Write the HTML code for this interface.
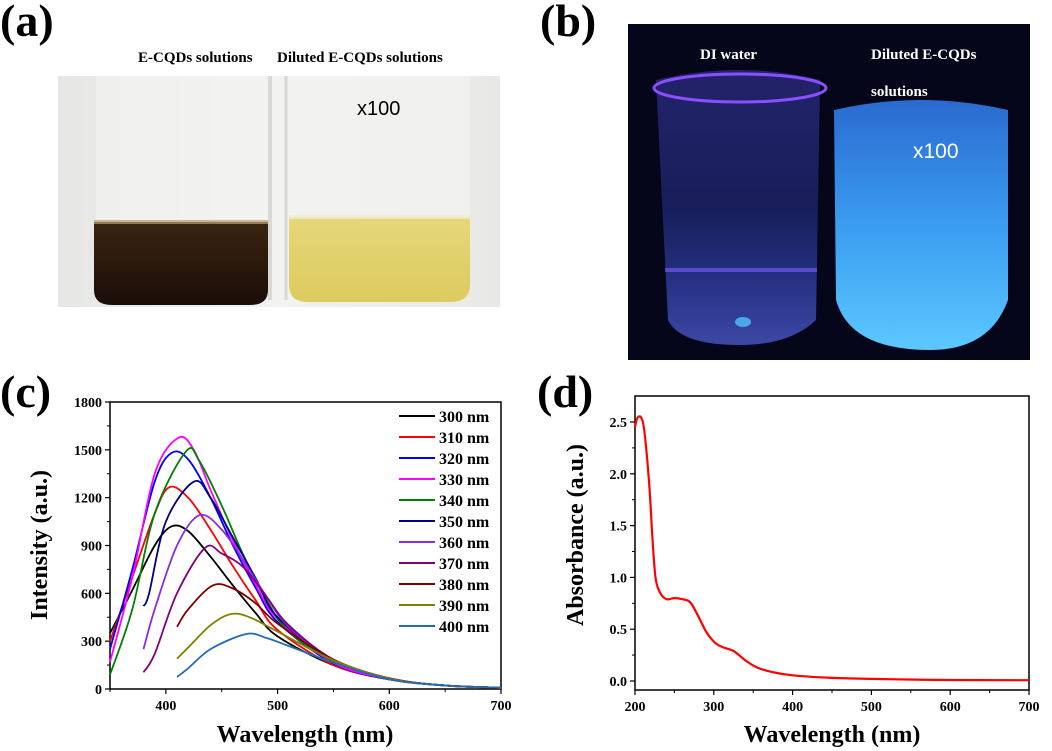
<!DOCTYPE html>
<html><head><meta charset="utf-8"><style>
body{margin:0;background:#fff;width:1052px;height:751px;overflow:hidden;position:relative;font-family:"Liberation Serif",serif}
.lbl{position:absolute;font-weight:bold;font-size:46px;line-height:1}
svg{position:absolute;left:0;top:0}
</style></head><body>
<div class="lbl" style="left:0;top:-2px">(a)</div>
<div class="lbl" style="left:540px;top:-2px">(b)</div>
<div class="lbl" style="left:0;top:369px">(c)</div>
<div class="lbl" style="left:537px;top:369px">(d)</div>
<svg width="1052" height="751" id="svg" font-family="Liberation Serif, serif">
<defs>
<linearGradient id="bgA" x1="0" y1="0" x2="1" y2="0"><stop offset="0" stop-color="#e6e6e4"/><stop offset="0.5" stop-color="#f2f2f0"/><stop offset="1" stop-color="#e8e8e6"/></linearGradient>
<linearGradient id="brown" x1="0" y1="0" x2="0" y2="1"><stop offset="0" stop-color="#3a2410"/><stop offset="1" stop-color="#1a0e08"/></linearGradient>
<linearGradient id="yel" x1="0" y1="0" x2="0" y2="1"><stop offset="0" stop-color="#e6d77a"/><stop offset="1" stop-color="#dccb5e"/></linearGradient>
<linearGradient id="glow" x1="0" y1="0" x2="0" y2="1"><stop offset="0" stop-color="#2a6ad0"/><stop offset="0.5" stop-color="#3a9cf0"/><stop offset="1" stop-color="#5cc8ff"/></linearGradient>
<linearGradient id="di" x1="0" y1="0" x2="0" y2="1"><stop offset="0" stop-color="#2a2a80"/><stop offset="0.5" stop-color="#1c2468"/><stop offset="0.75" stop-color="#2a3a9a"/><stop offset="1" stop-color="#4a58c8"/></linearGradient>
</defs>
<g>
<rect x="58" y="76" width="442" height="231" fill="url(#bgA)"/>
<rect x="96" y="76" width="172" height="150" fill="#f4f4f2" opacity="0.6"/>
<rect x="288" y="76" width="182" height="150" fill="#f4f4f2" opacity="0.6"/>
<line x1="270" y1="76" x2="270" y2="300" stroke="#d8d8d6" stroke-width="4"/>
<line x1="286" y1="76" x2="286" y2="300" stroke="#d8d8d6" stroke-width="3"/>
<path d="M94 222 H268 V290 Q268 305 250 305 H112 Q94 305 94 290 Z" fill="url(#brown)"/>
<path d="M289 217 H470 V285 Q470 302 450 302 H308 Q289 302 289 285 Z" fill="url(#yel)"/>
<rect x="94" y="220" width="174" height="4" fill="#b8a070" opacity="0.7"/>
<rect x="289" y="215" width="181" height="4" fill="#f0ecd0" opacity="0.8"/>
<text x="138" y="62" font-size="15" font-weight="bold">E-CQDs solutions</text>
<text x="277" y="62" font-size="15" font-weight="bold">Diluted E-CQDs solutions</text>
<text x="357" y="115" font-size="20" font-family="Liberation Sans, sans-serif">x100</text>
</g>
<g>
<rect x="628" y="24" width="402" height="336" fill="#06061a"/>
<path d="M656 80 Q740 60 820 80 L816 320 Q790 345 740 345 Q680 345 668 320 Z" fill="url(#di)" opacity="0.8"/>
<rect x="665" y="268" width="152" height="4" fill="#6a50e0" opacity="0.8"/>
<ellipse cx="743" cy="322" rx="8" ry="5" fill="#50c0ff" opacity="0.8"/>
<ellipse cx="740" cy="88" rx="86" ry="14" fill="none" stroke="#8a50ff" stroke-width="3"/>
<path d="M834 110 Q920 90 1008 110 L1008 300 Q990 350 930 350 Q850 350 836 300 Z" fill="url(#glow)"/>
<text x="700" y="59" font-size="15" font-weight="bold" fill="#fff">DI water</text>
<text x="871" y="59" font-size="15" font-weight="bold" fill="#fff">Diluted E-CQDs</text>
<text x="871" y="96" font-size="15" font-weight="bold" fill="#fff">solutions</text>
<text x="913" y="158" font-size="21" font-family="Liberation Sans, sans-serif" fill="#fff">x100</text>
</g>
<g id="chartC"></g>
<g id="chartD"></g>
</svg>
<script>
const NS='http://www.w3.org/2000/svg';
const seriesNames=['300 nm','310 nm','320 nm','330 nm','340 nm','350 nm','360 nm','370 nm','380 nm','390 nm','400 nm'];
const seriesColors=['#000000','#ff0000','#0000ff','#ff00ff','#008000','#000080','#8a2be2','#800080','#800000','#808000','#1f6eb4'];
const wl300=[350,370,390,405,420,440,460,480,500,550,600,650,700];
const in300=[350,620,900,1020,990,830,650,480,330,150,60,22,8];
const wl310=[350,370,390,403,420,440,460,480,500,550,600,650,700];
const in310=[300,700,1100,1265,1200,1000,770,560,370,150,60,22,8];
const wl320=[350,370,390,405,420,440,460,480,500,550,600,650,700];
const in320=[250,750,1300,1480,1440,1200,900,640,420,160,60,22,8];
const wl330=[350,370,390,411,425,440,460,480,500,550,600,650,700];
const in330=[170,700,1350,1575,1500,1250,930,660,440,165,62,22,8];
const wl340=[350,370,390,418,430,450,470,490,510,550,600,650,700];
const in340=[90,500,1100,1490,1430,1150,830,560,360,175,65,22,8];
const wl350=[380,385,400,425,440,460,480,500,550,600,650,700];
const in350=[520,600,1050,1300,1200,950,700,450,180,65,22,8];
const wl360=[380,390,410,430,450,470,490,510,550,600,650,700];
const in360=[250,500,900,1090,1000,800,580,390,180,65,22,8];
const wl370=[380,390,410,435,450,470,490,510,550,600,650,700];
const in370=[105,220,600,885,850,760,580,400,185,67,22,8];
const wl380=[410,420,442,460,480,500,550,600,650,700];
const in380=[390,500,650,630,540,410,185,67,22,8];
const wl390=[410,420,440,458,475,500,550,600,650,700];
const in390=[190,260,400,470,450,360,180,65,22,8];
const wl400=[410,420,440,472,490,510,550,600,650,700];
const in400=[75,130,250,345,320,270,165,60,22,8];
const cWl=[wl300,wl310,wl320,wl330,wl340,wl350,wl360,wl370,wl380,wl390,wl400];
const cIn=[in300,in310,in320,in330,in340,in350,in360,in370,in380,in390,in400];
const cXTicks=[400,500,600,700];
const cYTicks=[0,300,600,900,1200,1500,1800];
const absWl=[200,203,208,212,218,222,226,232,240,250,260,270,280,290,300,310,325,340,355,375,400,450,500,600,700];
const absVal=[2.45,2.54,2.54,2.4,1.9,1.4,1.0,0.85,0.79,0.80,0.79,0.76,0.63,0.48,0.38,0.33,0.29,0.2,0.13,0.085,0.055,0.03,0.02,0.01,0.008];
const dXTicks=[200,300,400,500,600,700];
const dYTicks=[0,0.5,1.0,1.5,2.0,2.5];

function el(tag,attrs,parent){const e=document.createElementNS(NS,tag);for(const k in attrs)e.setAttribute(k,attrs[k]);parent.appendChild(e);return e;}
function spline(pts){let d='M'+pts[0][0].toFixed(1)+' '+pts[0][1].toFixed(1);
 for(let i=0;i<pts.length-1;i++){const p0=pts[i-1]||pts[i],p1=pts[i],p2=pts[i+1],p3=pts[i+2]||p2;
  const c1=[p1[0]+(p2[0]-p0[0])/6,p1[1]+(p2[1]-p0[1])/6],c2=[p2[0]-(p3[0]-p1[0])/6,p2[1]-(p3[1]-p1[1])/6];
  d+=' C'+c1.map(v=>v.toFixed(1)).join(' ')+' '+c2.map(v=>v.toFixed(1)).join(' ')+' '+p2.map(v=>v.toFixed(1)).join(' ');}
 return d;}

function axes(g,L,T,R,B,xs,ys,xt,yt,xfmt,yfmt,xminor,yminor,name){
 const f=el('rect',{x:L,y:T,width:R-L,height:B-T,fill:'none',stroke:'#000','stroke-width':1.5},g);
 
 
 xt.forEach(v=>{const x=xs(v);el('line',{x1:x,x2:x,y1:B,y2:B+5,stroke:'#000','stroke-width':1.2},g);
  const t=el('text',{x:x,y:B+21,'text-anchor':'middle','font-size':14,'font-weight':'bold'},g);t.textContent=xfmt(v);
  
  });
 xminor.forEach(v=>{const x=xs(v);el('line',{x1:x,x2:x,y1:B,y2:B+3,stroke:'#000','stroke-width':1},g);});
 yt.forEach(v=>{const y=ys(v);el('line',{x1:L-5,x2:L,y1:y,y2:y,stroke:'#000','stroke-width':1.2},g);
  const t=el('text',{x:L-8,y:y+5,'text-anchor':'end','font-size':14,'font-weight':'bold'},g);t.textContent=yfmt(v);
  
  });
 yminor.forEach(v=>{const y=ys(v);el('line',{x1:L-3,x2:L,y1:y,y2:y,stroke:'#000','stroke-width':1},g);});
}

(function(){
 const g=document.getElementById('chartC');
 
 
 const L=110,T=402,R=501,B=689;
 const xs=v=>L+(v-350)*(R-L)/350, ys=v=>B-v*(B-T)/1800;
 const xminor=[350,450,550,650], yminor=[150,450,750,1050,1350,1650];
 axes(g,L,T,R,B,xs,ys,cXTicks,cYTicks,v=>v,v=>v,xminor,yminor,'chart-c');
 cWl.forEach((w,i)=>{const p=el('path',{d:spline(w.map((x,j)=>[xs(x),ys(cIn[i][j])])),fill:'none',stroke:seriesColors[i],'stroke-width':1.8},g);
  
  
  const y=416+i*21;
  const ln=el('line',{x1:399,x2:435,y1:y,y2:y,stroke:seriesColors[i],'stroke-width':2},g);
  
  
  const t=el('text',{x:439,y:y+6,'font-size':16,'font-weight':'bold'},g);t.textContent=seriesNames[i];
  
  });
 const xt=el('text',{x:305,y:742,'text-anchor':'middle','font-size':24,'font-weight':'bold'},g);xt.textContent='Wavelength (nm)';
 
 
 const yt=el('text',{x:0,y:0,'text-anchor':'middle','font-size':24,'font-weight':'bold',transform:'translate(47,545) rotate(-90)'},g);yt.textContent='Intensity (a.u.)';
 
 
})();
(function(){
 const g=document.getElementById('chartD');
 
 
 const L=635,T=396,R=1029,B=690;
 const xs=v=>L+(v-200)*(R-L)/500, ys=v=>681-v*103.6;
 const xminor=[250,350,450,550,650], yminor=[0.25,0.75,1.25,1.75,2.25];
 axes(g,L,T,R,B,xs,ys,dXTicks,dYTicks,v=>v,v=>v.toFixed(1),xminor,yminor,'chart-d');
 const p=el('path',{d:spline(absWl.map((x,j)=>[xs(x),ys(absVal[j])])),fill:'none',stroke:'#ff0000','stroke-width':2.2},g);
 
 
 const xt=el('text',{x:832,y:742,'text-anchor':'middle','font-size':24,'font-weight':'bold'},g);xt.textContent='Wavelength (nm)';
 
 
 const yt=el('text',{x:0,y:0,'text-anchor':'middle','font-size':24,'font-weight':'bold',transform:'translate(583,535) rotate(-90)'},g);yt.textContent='Absorbance (a.u.)';
 
 
})();
</script>
</body></html>
